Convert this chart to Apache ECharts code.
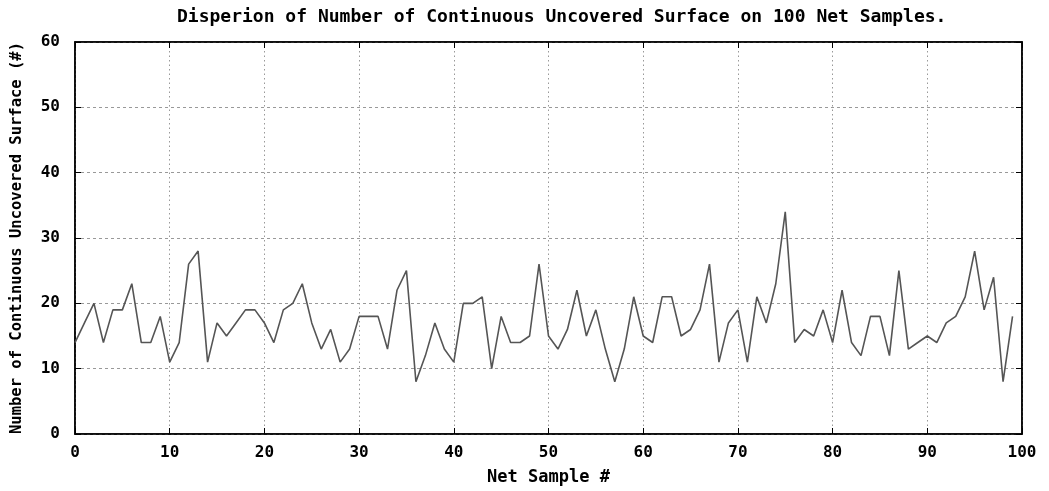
<!DOCTYPE html>
<html>
<head>
<meta charset="utf-8">
<script src="https://cdn.jsdelivr.net/npm/echarts@6/dist/echarts.min.js"></script>
<style>
html,body{margin:0;padding:0;background:#fff;}
#chart{width:1049px;height:491px;}
</style>
</head>
<body>
<div id="chart"></div>
<script>
const titleText = "Disperion of Number of Continuous Uncovered Surface on 100 Net Samples.";
const xName = "Net Sample #";
const yName = "Number of Continuous Uncovered Surface (#)";
const samples = [
  0,1,2,3,4,5,6,7,8,9,
  10,11,12,13,14,15,16,17,18,19,
  20,21,22,23,24,25,26,27,28,29,
  30,31,32,33,34,35,36,37,38,39,
  40,41,42,43,44,45,46,47,48,49,
  50,51,52,53,54,55,56,57,58,59,
  60,61,62,63,64,65,66,67,68,69,
  70,71,72,73,74,75,76,77,78,79,
  80,81,82,83,84,85,86,87,88,89,
  90,91,92,93,94,95,96,97,98,99
];
const surfaces = [
  14,17,20,14,19,19,23,14,14,18,
  11,14,26,28,11,17,15,17,19,19,
  17,14,19,20,23,17,13,16,11,13,
  18,18,18,13,22,25,8,12,17,13,
  11,20,20,21,10,18,14,14,15,26,
  15,13,16,22,15,19,13,8,13,21,
  15,14,21,21,15,16,19,26,11,17,
  19,11,21,17,23,34,14,16,15,19,
  14,22,14,12,18,18,12,25,13,14,
  15,14,17,18,21,28,19,24,8,18
];
const FONT = "DejaVu Sans Mono";
const txt = (size) => ({fontFamily: FONT, fontWeight: 'bold', fontSize: size, color: '#000'});

const chart = echarts.init(document.getElementById('chart'), null, {renderer: 'canvas'});
const frameLine = {show: true, onZero: false, lineStyle: {color: '#000', width: 1.5}};
const tick = {show: true, inside: true, length: 6, lineStyle: {color: '#000', width: 1}};
chart.setOption({
  animation: false,
  backgroundColor: '#fff',
  title: {
    text: titleText, left: 172, top: 3,
    textStyle: txt(18)
  },
  grid: {left: 75, right: 27, top: 42, bottom: 57, containLabel: false,
         show: true, borderColor: '#000', borderWidth: 1.5, backgroundColor: 'transparent'},
  xAxis: [{
    type: 'value', min: 0, max: 100, interval: 10,
    name: xName, nameLocation: 'middle', nameGap: 35,
    nameTextStyle: txt(17),
    axisLine: frameLine,
    axisTick: tick,
    axisLabel: Object.assign({margin: 11}, txt(16)),
    splitLine: {show: true, lineStyle: {color: '#999', type: [1.5, 3], width: 1}}
  }, {
    type: 'value', min: 0, max: 100, interval: 10, position: 'top',
    axisLine: frameLine,
    axisTick: tick,
    axisLabel: {show: false}, splitLine: {show: false}
  }],
  yAxis: [{
    type: 'value', min: 0, max: 60, interval: 10,
    name: yName, nameLocation: 'middle', nameGap: 50, nameRotate: 90,
    nameTextStyle: txt(15.5),
    axisLine: frameLine,
    axisTick: tick,
    axisLabel: Object.assign({margin: 15}, txt(16)),
    splitLine: {show: true, lineStyle: {color: '#999', type: [3, 3], width: 1}}
  }, {
    type: 'value', min: 0, max: 60, interval: 10, position: 'right',
    axisLine: frameLine,
    axisTick: tick,
    axisLabel: {show: false}, splitLine: {show: false}
  }],
  series: [{
    type: 'line',
    data: samples.map((s, i) => [s, surfaces[i]]),
    showSymbol: false,
    lineStyle: {color: '#555', width: 1.6},
    z: 5
  }]
});
</script>
</body>
</html>
